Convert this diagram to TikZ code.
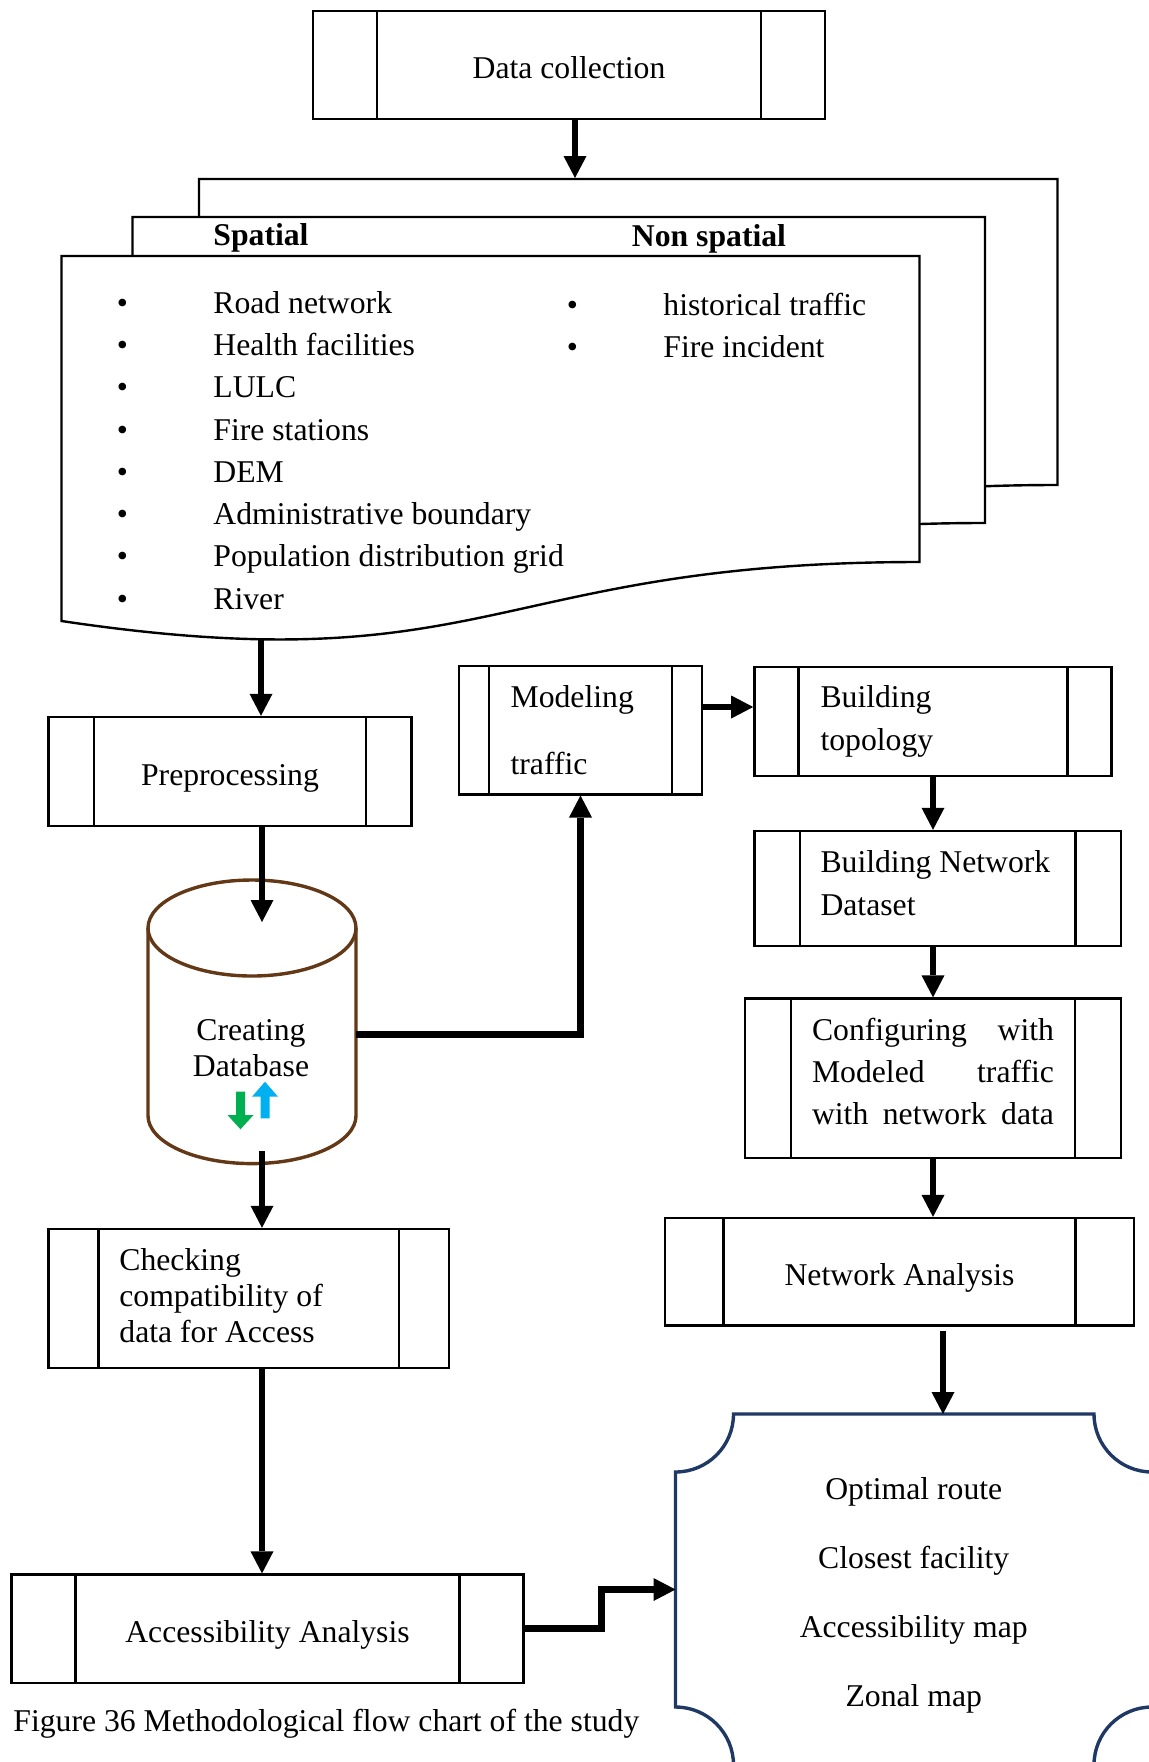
\documentclass[tikz,border=0pt]{standalone}
\usepackage{fontspec}
\setmainfont{Liberation Serif}
\usetikzlibrary{arrows.meta}

\definecolor{dbbrown}{RGB}{99,56,23}
\definecolor{outnavy}{RGB}{31,56,100}
\definecolor{upblue}{RGB}{0,176,240}
\definecolor{downgreen}{RGB}{0,176,80}

\newcommand{\chartfont}{\fontsize{15.85}{21.1}\selectfont}

\tikzset{
  procbox/.style={draw, line width=1.2pt, fill=white, inner xsep=0pt,
    path picture={\draw[line width=1.2pt]
      ([xshift=#1]path picture bounding box.north west) -- ([xshift=#1]path picture bounding box.south west)
      ([xshift=-#1]path picture bounding box.north east) -- ([xshift=-#1]path picture bounding box.south east);}},
  oneline/.style={text height=13.5pt, text depth=0pt},
  docpage/.style={draw, line width=1.2pt, fill=white},
  doctext/.style={anchor=base west, inner sep=0pt},
  conn/.style={line width=2.8pt, -{Triangle[length=11pt,width=11.5pt,line width=0pt]}},
  thickconn/.style={conn, line width=3.4pt},
}

\begin{document}
\begin{tikzpicture}[x=0.5pt, y=-0.5pt, font=\chartfont]

\useasboundingbox (0,0) rectangle (1149,1762);
\clip (0,0) rectangle (1149,1762);

% documents

\filldraw[docpage] (199,179) -- (1057.5,179) -- (1057.5,485) .. controls (627.5,485) and (627.5,608) .. (199,544) -- cycle;
\filldraw[docpage] (132.5,217) -- (985,217) -- (985,523) .. controls (558.5,523) and (558.5,646) .. (132.5,582) -- cycle;
\filldraw[docpage] (61.5,256) -- (919.5,256) -- (919.5,562) .. controls (490.5,562) and (490.5,685) .. (61.5,621) -- cycle;

\node[doctext, font=\chartfont\bfseries] (spatial) at (213,245) {Spatial};
\node[doctext, font=\chartfont\bfseries] (nonspatial) at (631.5,246.7) {Non spatial};

\foreach \lbl [count=\i] in {Road network, Health facilities, LULC, Fire stations, DEM,
    Administrative boundary, Population distribution grid, River}{
  \node[doctext] (bul\i) at (116.4,271+42.25*\i) {•};
  \node[doctext] (sp\i) at (213,271+42.25*\i) {\lbl};
}

\node[doctext] (nbul1) at (566.4,315) {•};
\node[doctext] (nsp1) at (663,315) {historical traffic};
\node[doctext] (nbul2) at (566.4,357) {•};
\node[doctext] (nsp2) at (663,357) {Fire incident};

% boxes

\node[procbox=32pt, oneline, minimum width=256pt, minimum height=54pt] (datacoll) at (569,65) {Data collection};
\node[procbox=22.75pt, oneline, minimum width=181.5pt, minimum height=54.5pt] (prep) at (230,771.5) {Preprocessing};
\node[procbox=15pt, minimum width=121.5pt, minimum height=64.3pt, text width=69.9pt, align=flush left] (model) at (580.5,730) {Modeling\\[12.75pt]traffic};
\node[procbox=22pt, minimum width=178.6pt, minimum height=54.5pt, text width=112.5pt, align=flush left] (topo) at (933,721.5) {Building\\topology};
\node[procbox=22.75pt, minimum width=183.25pt, minimum height=57.5pt, text width=117.2pt, align=flush left,
  text depth=26.7pt] (netds) at (937.7,888.5) {Building Network\\Dataset};
\node[procbox=23pt, minimum width=188pt, minimum height=79.75pt, text width=121pt, align=flush left,
  text depth=48.9pt] (config) at (933,1078.3)
  {Configuring\hfill with\\Modeled\hfill traffic\\with\hfill network\hfill data};
\node[procbox=29.25pt, oneline, minimum width=234.5pt, minimum height=53.75pt] (netan) at (899.5,1271.8) {Network Analysis};
\node[procbox=25pt, minimum width=200.25pt, minimum height=69.5pt, text width=129.3pt, align=flush left,
  text depth=39pt, font=\fontsize{15.85}{18.1}\selectfont] (check) at (248.7,1298.5) {Checking\\compatibility of\\data for Access};
\node[procbox=32pt, oneline, minimum width=256pt, minimum height=54.25pt] (access) at (267.5,1628.8) {Accessibility Analysis};

% database

\filldraw[dbbrown, fill=white, line width=1.7pt] (148,928) -- (148,1115.6) arc (180:360:52pt and 24pt)
  -- (356,928) arc (0:180:52pt and 24pt) -- cycle;
\draw[dbbrown, line width=1.7pt] (148,928) arc (180:360:52pt and 24pt);
\node[align=center, font=\fontsize{15.85}{17.9}\selectfont] (db) at (251,1048) {Creating\\Database};

\fill[downgreen] (236,1091.7) -- (245,1091.7) -- (245,1115) -- (253.5,1115) -- (240.5,1129.3) -- (227.5,1115) -- (236,1115) -- cycle;
\fill[upblue] (260.5,1118.3) -- (269.5,1118.3) -- (269.5,1096.7) -- (278,1096.7) -- (265,1081.7) -- (252,1096.7) -- (260.5,1096.7) -- cycle;

% results

\node[minimum width=238.25pt, minimum height=175.5pt, outer sep=0pt] (results) at (913.75,1589.5) {};
\node[align=center, font=\fontsize{15.85}{34.5}\selectfont] (restext) at (913.75,1595.3)
  {Optimal route\\Closest facility\\Accessibility map\\Zonal map};
\draw[outnavy, line width=1.7pt] ([xshift=29pt]results.north west) -- ([xshift=-29pt]results.north east)
  arc (180:270:29pt) -- ([yshift=29pt]results.south east)
  arc (90:180:29pt) -- ([xshift=29pt]results.south west)
  arc (0:90:29pt) -- ([yshift=-29pt]results.north west)
  arc (270:360:29pt) -- cycle;

\node[doctext] (caption) at (13,1731) {Figure 36 Methodological flow chart of the study};

% arrows

\coordinate (doctop) at (575,178);
\coordinate (docbot) at (261,638);
\coordinate (dbin) at (262,922);
\coordinate (dbout) at (262,1151);
\coordinate (dbright) at (356,1034.6);
\coordinate (modout) at ([yshift=11.5pt]model.east);
\coordinate (netout) at ([xshift=21.75pt,yshift=-2pt]netan.south);

\draw[conn] (doctop |- datacoll.south) -- (doctop);
\draw[conn] (docbot) -- (docbot |- prep.north);
\draw[conn] (dbin |- prep.south) -- (dbin);
\draw[conn] (dbout) -- (dbout |- check.north);
\draw[conn] (dbout |- check.south) -- (dbout |- access.north);
\draw[thickconn] (dbright) -| (model.south);
\draw[thickconn] (modout) -- (modout -| topo.west);
\draw[conn] (topo.south) -- (topo.south |- netds.north);
\draw[conn] (config.north |- netds.south) -- (config.north);
\draw[conn] (config.south) -- (config.south |- netan.north);
\draw[conn] (netout) -- (netout |- results.north);
\draw[thickconn] (access.east) -- ++(38.5pt,0pt) |- (results.west);

\end{tikzpicture}
\end{document}
